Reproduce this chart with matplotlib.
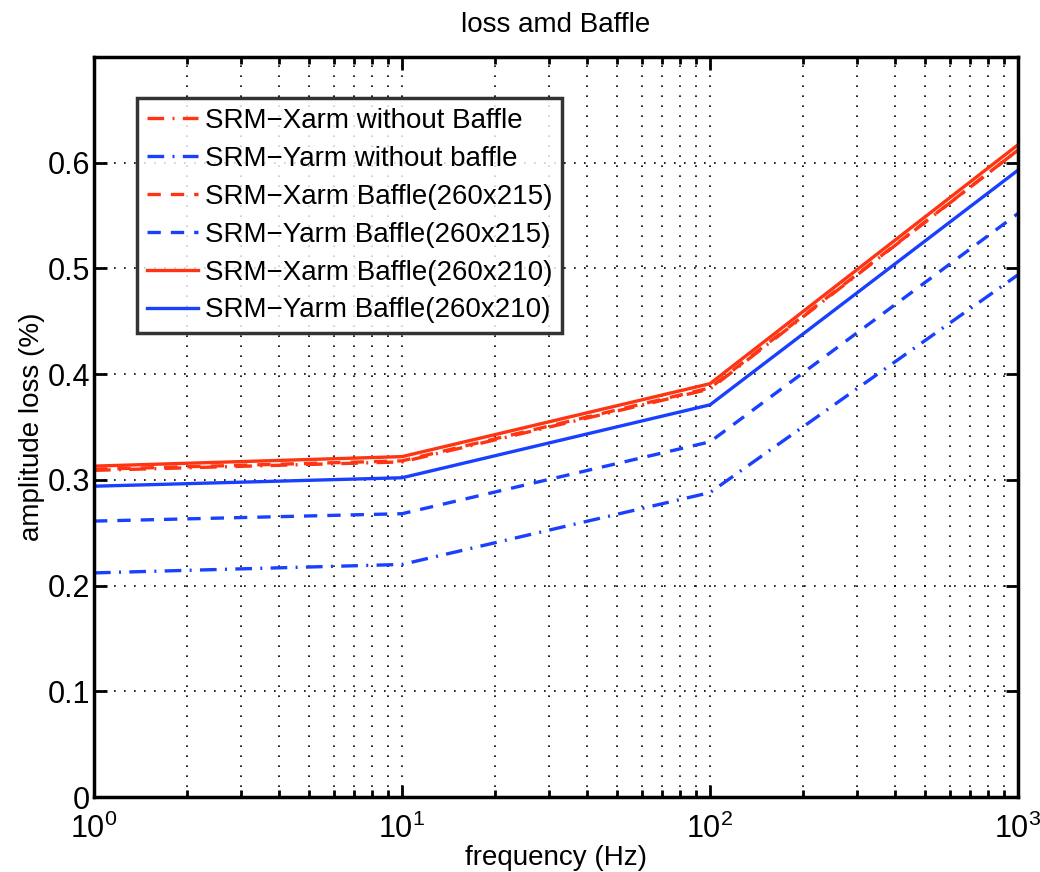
import matplotlib
matplotlib.use("Agg")
import matplotlib.pyplot as plt
from matplotlib.ticker import LogLocator, NullFormatter

plt.rcParams['font.family'] = ['Liberation Sans', 'DejaVu Sans']
plt.rcParams['mathtext.fontset'] = 'custom'
plt.rcParams['mathtext.rm'] = 'Liberation Sans'
plt.rcParams['mathtext.it'] = 'Liberation Sans'

# Data
freq = [1, 10, 100, 1000]
x_without = [0.309, 0.317, 0.386, 0.612]
y_without = [0.212, 0.220, 0.288, 0.494]
x_215 = [0.310, 0.318, 0.387, 0.612]
y_215 = [0.261, 0.268, 0.336, 0.552]
x_210 = [0.313, 0.322, 0.391, 0.617]
y_210 = [0.294, 0.302, 0.371, 0.593]

labels = ['SRM\u2212Xarm without Baffle', 'SRM\u2212Yarm without baffle',
          'SRM\u2212Xarm Baffle(260x215)', 'SRM\u2212Yarm Baffle(260x215)',
          'SRM\u2212Xarm Baffle(260x210)', 'SRM\u2212Yarm Baffle(260x210)']
yticks = [0, 0.1, 0.2, 0.3, 0.4, 0.5, 0.6]
ytick_labels = ['0', '0.1', '0.2', '0.3', '0.4', '0.5', '0.6']

red = '#ff3412'
blue = '#1a40ff'

fig = plt.figure(figsize=(10.4, 8.72), dpi=100)
ax = fig.add_axes([0.0904, 0.086, 0.8885, 0.8486])

lw = 2.4
dashdot = (0, (5, 2.5, 0.6, 2.5))
ax.plot(freq, x_without, color=red, lw=lw, ls=dashdot, label=labels[0])
ax.plot(freq, y_without, color=blue, lw=lw, ls=dashdot, label=labels[1])
ax.plot(freq, x_215, color=red, lw=lw, ls=(0, (4, 3)), label=labels[2])
ax.plot(freq, y_215, color=blue, lw=lw, ls=(0, (4, 3)), label=labels[3])
ax.plot(freq, x_210, color=red, lw=lw, ls='-', label=labels[4])
ax.plot(freq, y_210, color=blue, lw=lw, ls='-', label=labels[5])

ax.set_xscale('log')
ax.set_xlim(1, 1000)
ax.set_ylim(0, 0.7)
ax.xaxis.set_major_locator(LogLocator(base=10, numticks=10))
ax.xaxis.set_minor_locator(LogLocator(base=10, subs=range(2, 10), numticks=10))
ax.xaxis.set_minor_formatter(NullFormatter())
ax.set_yticks(yticks)
ax.set_yticklabels(ytick_labels)

# MATLAB-like sparse dotted grid
grid_ls = (0, (1, 5))
ax.grid(True, which='major', ls=grid_ls, color='black', lw=1.2)
ax.grid(True, which='minor', axis='x', ls=grid_ls, color='black', lw=1.2)

ax.tick_params(which='both', direction='in', top=True, right=True,
               labelsize=22, width=2)
ax.tick_params(which='major', length=9, pad=3)
ax.tick_params(which='minor', length=5)
ax.tick_params(axis='x', which='major', pad=12)
for s in ax.spines.values():
    s.set_linewidth(2.5)

ax.set_title('loss amd Baffle', fontsize=20, pad=18)
ax.set_xlabel('frequency (Hz)', fontsize=20, labelpad=0)
ax.set_ylabel('amplitude loss (%)', fontsize=20, labelpad=2)

leg = ax.legend(loc='upper left', bbox_to_anchor=(0.0465, 0.9446), fontsize=20,
                frameon=True, fancybox=False, edgecolor='black',
                handlelength=1.85, handletextpad=0.25, borderpad=0.35,
                labelspacing=0.43, borderaxespad=0)
leg.get_frame().set_linewidth(2.5)

fig.savefig('out.png', dpi=100)
